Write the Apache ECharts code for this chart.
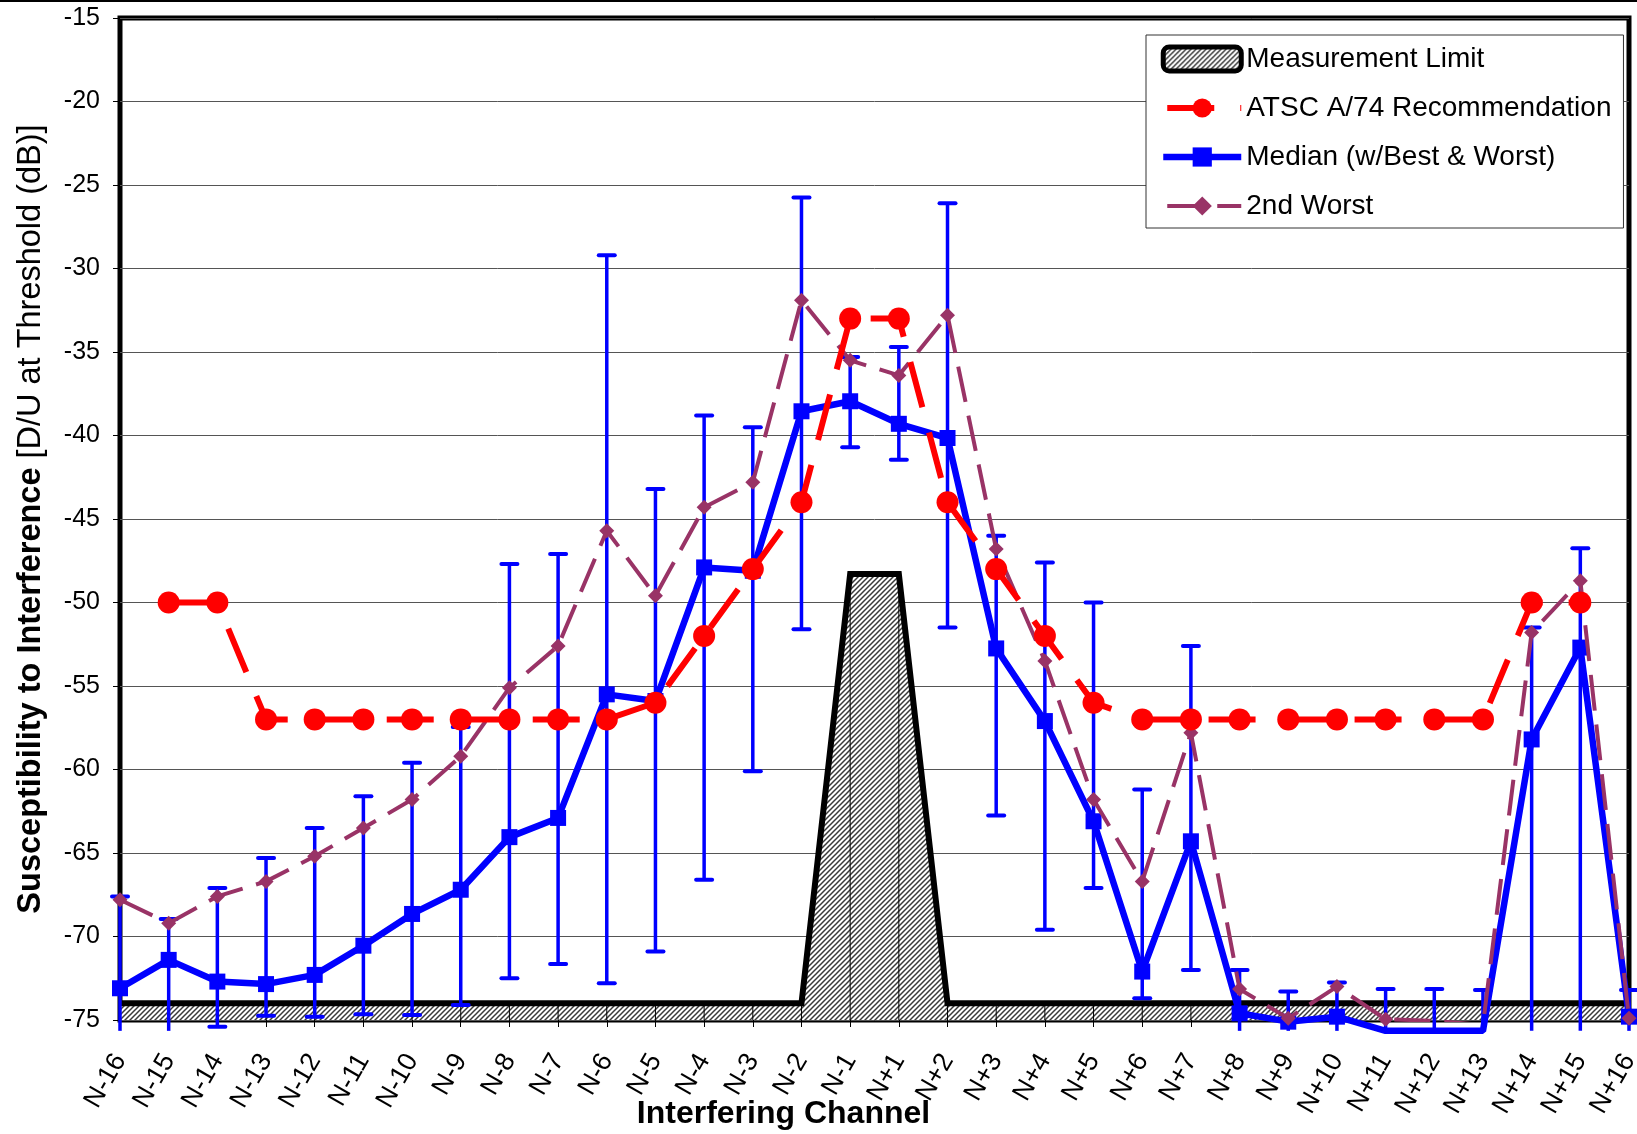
<!DOCTYPE html>
<html><head><meta charset="utf-8">
<script src="https://cdn.jsdelivr.net/npm/echarts@6/dist/echarts.min.js"></script>
<style>html,body{margin:0;padding:0;background:#fff}#c{width:1637px;height:1134px}</style>
</head><body><div id="c"></div>
<script>
const categories = ['N-16','N-15','N-14','N-13','N-12','N-11','N-10','N-9','N-8','N-7','N-6','N-5','N-4','N-3','N-2','N-1',
  'N+1','N+2','N+3','N+4','N+5','N+6','N+7','N+8','N+9','N+10','N+11','N+12','N+13','N+14','N+15','N+16'];
const measurementLimit = [-74,-74,-74,-74,-74,-74,-74,-74,-74,-74,-74,-74,-74,-74,-74,-48.3,
  -48.3,-74,-74,-74,-74,-74,-74,-74,-74,-74,-74,-74,-74,-74,-74,-74];
const atscA74 = [null,-50,-50,-57,-57,-57,-57,-57,-57,-57,-57,-56,-52,-48,-44,-33,
  -33,-44,-48,-52,-56,-57,-57,-57,-57,-57,-57,-57,-57,-50,-50,null];
const median = [-73.1,-71.4,-72.7,-72.85,-72.3,-70.55,-68.65,-67.2,-64.05,-62.9,-55.5,-55.9,-47.9,-48.1,-38.55,-37.95,
  -39.3,-40.15,-52.75,-57.1,-63.1,-72.1,-64.3,-74.6,-75.1,-74.8,-75.65,-75.65,-75.65,-58.2,-52.7,-74.8];
const best = [-67.6,-68.95,-67.1,-65.3,-63.5,-61.6,-59.6,-57.45,-47.7,-47.1,-29.2,-43.2,-38.8,-39.5,-25.75,-35.3,
  -34.7,-26.1,-46.0,-47.6,-50,-61.2,-52.6,-72.0,-73.3,-72.75,-73.15,-73.15,-73.2,-51.5,-46.75,-73.2];
const worst = [-75.65,-75.65,-75.4,-74.75,-74.8,-74.65,-74.7,-74.1,-72.5,-71.65,-72.8,-70.9,-66.6,-60.1,-51.6,-40.7,
  -41.45,-51.5,-62.75,-69.6,-67.1,-73.7,-72.0,-75.65,-75.65,-75.65,-75.65,-75.65,-75.65,-75.65,-75.65,-75.65];
const secondWorst = [-67.8,-69.2,-67.6,-66.7,-65.2,-63.5,-61.8,-59.2,-55.1,-52.6,-45.7,-49.6,-44.3,-42.8,-31.9,-35.5,
  -36.4,-32.8,-46.8,-53.5,-61.8,-66.7,-57.8,-73.15,-74.9,-73.0,-74.95,-75.05,-75.3,-51.8,-48.7,-74.9];
const Y_MIN = -75, Y_MAX = -15, Y_STEP = 5;
const OFF_SCALE = -75.5; // values below this run past the plot bottom (no cap / marker shown)

function makeHatch() {
  const c = document.createElement('canvas');
  c.width = 5; c.height = 5;
  const g = c.getContext('2d');
  g.fillStyle = '#ffffff'; g.fillRect(0, 0, 5, 5);
  g.strokeStyle = '#3a3a3a'; g.lineWidth = 1.5;
  g.beginPath();
  g.moveTo(-1, 6); g.lineTo(6, -1);
  g.moveTo(-1, 1); g.lineTo(1, -1);
  g.moveTo(4, 6); g.lineTo(6, 4);
  g.stroke();
  return c;
}
const hatch = { image: makeHatch(), repeat: 'repeat' };
const FONT = 'Liberation Sans, Arial, sans-serif';

const chart = echarts.init(document.getElementById('c'));
chart.setOption({
  animation: false,
  backgroundColor: '#ffffff',
  graphic: [{ type: 'rect', left: 0, top: 0, shape: { width: 1637, height: 2 }, style: { fill: '#000' }, z: 100 }],
  grid: { left: 120, right: 8, top: 18, bottom: 114, containLabel: false, outerBoundsMode: 'none',
    show: true, borderColor: '#000', borderWidth: 5, backgroundColor: 'transparent' },
  legend: {
    orient: 'vertical', left: 1146, top: 35,
    itemWidth: 78, itemHeight: 24, itemGap: 19,
    padding: [9, 12, 7, 14],
    backgroundColor: '#fff', borderColor: '#333', borderWidth: 1,
    lineStyle: { width: 'inherit' },
    textStyle: { fontFamily: FONT, fontSize: 28, color: '#000', lineHeight: 30 },
    data: [
      { name: 'Measurement Limit', icon: 'roundRect', itemStyle: { color: hatch, borderColor: '#000', borderWidth: 5 } },
      'ATSC A/74 Recommendation', 'Median (w/Best & Worst)', '2nd Worst'
    ]
  },
  xAxis: {
    type: 'category', data: categories, boundaryGap: false,
    axisLine: { show: false },
    axisTick: { show: true, length: 7, lineStyle: { color: '#000', width: 1 } },
    axisLabel: { rotate: 60, fontFamily: FONT, fontSize: 26.5, color: '#000', margin: 36, interval: 0 },
    splitLine: { show: false },
    name: 'Interfering Channel', nameLocation: 'middle', nameGap: 78, nameMoveOverlap: false,
    nameTextStyle: { fontFamily: FONT, fontSize: 32, fontWeight: 'bold', color: '#000', padding: [0, 182, 0, 0] }
  },
  yAxis: {
    type: 'value', min: Y_MIN, max: Y_MAX, interval: Y_STEP,
    axisLine: { show: false },
    axisTick: { show: true, length: 7, lineStyle: { color: '#000', width: 1 } },
    axisLabel: { fontFamily: FONT, fontSize: 25, color: '#000', margin: 20 },
    splitLine: { show: true, lineStyle: { color: '#555', width: 1 } },
    name: '{b|Susceptibility to Interference }{r|[D/U at Threshold (dB)]}',
    nameLocation: 'middle', nameRotate: 90, nameGap: 72, nameMoveOverlap: false,
    nameTextStyle: {
      color: '#000',
      rich: {
        b: { fontFamily: FONT, fontSize: 32.5, fontWeight: 'bold', color: '#000' },
        r: { fontFamily: FONT, fontSize: 32.5, color: '#000' }
      }
    }
  },
  series: [
    {
      name: 'Measurement Limit', type: 'line', data: measurementLimit, z: 1,
      symbol: 'none', lineStyle: { color: '#000', width: 6, join: 'miter' },
      itemStyle: { color: '#000' },
      areaStyle: { color: hatch, opacity: 1, origin: 'start' }
    },
    {
      name: 'dropLines', type: 'custom', z: 2, silent: true,
      data: measurementLimit.map((v, i) => [i, v]),
      renderItem: function (params, api) {
        const top = api.coord([api.value(0), api.value(1)]);
        const bot = api.coord([api.value(0), Y_MIN]);
        return { type: 'line', shape: { x1: top[0], y1: top[1], x2: bot[0], y2: bot[1] }, style: { stroke: '#000', lineWidth: 1 } };
      }
    },
    {
      name: 'errorBars', type: 'custom', z: 3, silent: true,
      data: categories.map((c, i) => [i, worst[i], best[i]]),
      encode: { x: 0, y: [1, 2] },
      renderItem: function (params, api) {
        const i = api.value(0), lo = api.value(1), hi = api.value(2);
        const pLo = api.coord([i, lo]), pHi = api.coord([i, hi]);
        const half = 8;
        const kids = [{ type: 'line', shape: { x1: pLo[0], y1: pLo[1], x2: pHi[0], y2: pHi[1] }, style: { stroke: '#0000FF', lineWidth: 3.5 } }];
        if (hi > OFF_SCALE) kids.push({ type: 'line', shape: { x1: pHi[0] - half, y1: pHi[1], x2: pHi[0] + half, y2: pHi[1] }, style: { stroke: '#0000FF', lineWidth: 4, lineCap: 'round' } });
        if (lo > OFF_SCALE) kids.push({ type: 'line', shape: { x1: pLo[0] - half, y1: pLo[1], x2: pLo[0] + half, y2: pLo[1] }, style: { stroke: '#0000FF', lineWidth: 4, lineCap: 'round' } });
        return { type: 'group', children: kids };
      }
    },
    {
      name: 'Median (w/Best & Worst)', type: 'line', z: 4, clip: false,
      data: median.map(v => (v < OFF_SCALE ? { value: v, symbol: 'none' } : v)),
      symbol: 'rect', symbolSize: 16,
      lineStyle: { color: '#0000FF', width: 6.5 }, itemStyle: { color: '#0000FF' }
    },
    {
      name: '2nd Worst', type: 'line', data: secondWorst, z: 5,
      symbol: 'diamond', symbolSize: 15,
      lineStyle: { color: '#993366', width: 4, type: [36, 14] }, itemStyle: { color: '#993366' }
    },
    {
      name: 'ATSC A/74 Recommendation', type: 'line', data: atscA74, z: 6,
      symbol: 'circle', symbolSize: 22,
      lineStyle: { color: '#FF0000', width: 6, type: [47, 26], dashOffset: -4 }, itemStyle: { color: '#FF0000' }
    }
  ]
});
</script></body></html>
